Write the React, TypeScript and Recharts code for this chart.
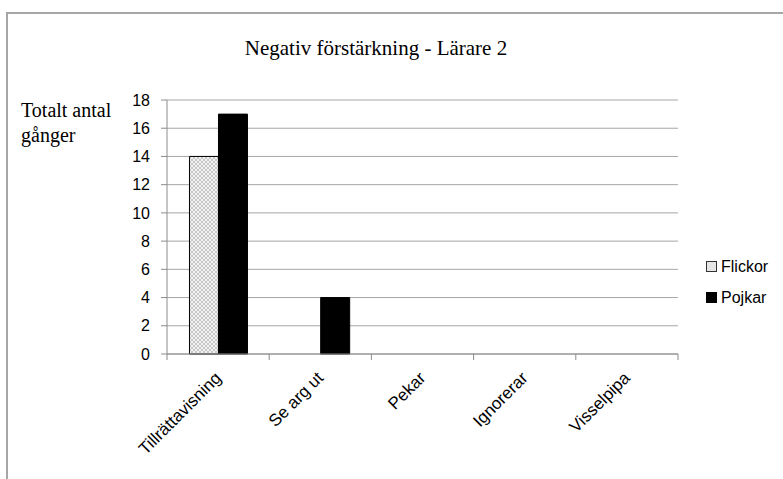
import { BarChart, Bar, XAxis, YAxis, CartesianGrid, Legend } from "recharts";

const categories = ["Tillrättavisning", "Se arg ut", "Pekar", "Ignorerar", "Visselpipa"];
const flickor = [14, 0, 0, 0, 0];
const pojkar = [17, 4, 0, 0, 0];
const yTicks = [0, 2, 4, 6, 8, 10, 12, 14, 16, 18];
const seriesNames = ["Flickor", "Pojkar"];
const title = "Negativ förstärkning - Lärare 2";
const yLabelLines = ["Totalt antal", "gånger"];

const data = categories.map((name, i) => ({
  name,
  Flickor: flickor[i],
  Pojkar: pojkar[i],
}));

const W = 783;
const H = 479;
const PLOT_LEFT = 167;
const PLOT_RIGHT = 678;
const BAND = (PLOT_RIGHT - PLOT_LEFT) / categories.length;
const AXIS_GRAY = "#8c8c8c";
const GRID_GRAY = "#a6a6a6";
const SANS = "'Liberation Sans', Arial, sans-serif";
const SERIF = "'Liberation Serif', 'Times New Roman', serif";

function XTick(props: any) {
  const { x, y, payload, index } = props;
  const left = x - BAND / 2;
  const ax = x + 4;
  const ay = y + 25;
  return (
    <g>
      <line x1={left} y1={y} x2={left} y2={y + 6} stroke={AXIS_GRAY} />
      {index === categories.length - 1 && (
        <line x1={x + BAND / 2} y1={y} x2={x + BAND / 2} y2={y + 6} stroke={AXIS_GRAY} />
      )}
      <text
        x={ax}
        y={ay}
        transform={`rotate(-45 ${ax} ${ay})`}
        textAnchor="end"
        fontFamily={SANS}
        fontSize={17}
        fill="#000"
      >
        {payload.value}
      </text>
    </g>
  );
}

function LegendContent() {
  return (
    <div style={{ fontFamily: SANS, fontSize: 16, color: "#000" }}>
      {seriesNames.map((n, i) => (
        <div key={n} style={{ display: "flex", alignItems: "center", height: 31 }}>
          <span
            style={{
              display: "inline-block",
              width: 9,
              height: 9,
              marginRight: 4,
              border: i === 0 ? "1px solid #333" : "1px solid #000",
              background: i === 0 ? "#e6e6e6" : "#000",
            }}
          />
          {n}
        </div>
      ))}
    </div>
  );
}

export default function App() {
  return (
    <div
      style={{
        position: "fixed",
        left: 0,
        top: 0,
        width: W,
        height: H,
        overflow: "hidden",
        background: "#fff",
      }}
    >
      <div
        style={{
          position: "absolute",
          left: 6,
          top: 12,
          width: 900,
          height: 600,
          borderLeft: "2px solid #a6a6a6",
          borderTop: "2px solid #a6a6a6",
        }}
      />
      <div style={{ position: "absolute", left: 0, top: 0 }}>
        <BarChart
          width={W}
          height={H}
          data={data}
          margin={{ top: 100, right: W - PLOT_RIGHT, bottom: 0, left: 0 }}
          barCategoryGap="22%"
          barGap={0}
        >
          <defs>
            <pattern id="hatch" width="4" height="4" patternUnits="userSpaceOnUse">
              <rect width="4" height="4" fill="#f2f2f2" />
              <path d="M0,0 L4,4 M4,0 L0,4" stroke="#bdbdbd" strokeWidth={0.8} />
            </pattern>
          </defs>
          <text x={376} y={55} textAnchor="middle" fontFamily={SERIF} fontSize={21} fill="#000">
            {title}
          </text>
          {yLabelLines.map((t, i) => (
            <text key={t} x={21} y={117 + i * 25} fontFamily={SERIF} fontSize={20} fill="#000">
              {t}
            </text>
          ))}
          <CartesianGrid vertical={false} stroke={GRID_GRAY} />
          <XAxis
            dataKey="name"
            height={125}
            axisLine={{ stroke: AXIS_GRAY }}
            tickLine={false}
            tickSize={0}
            tickMargin={0}
            tick={<XTick />}
            interval={0}
          />
          <YAxis
            width={PLOT_LEFT}
            domain={[0, 18]}
            ticks={yTicks}
            interval={0}
            axisLine={{ stroke: AXIS_GRAY }}
            tickLine={{ stroke: AXIS_GRAY }}
            tickSize={6}
            tickMargin={11}
            tick={{ fontFamily: SANS, fontSize: 16, fill: "#000" }}
          />
          <Legend
            layout="vertical"
            align="center"
            verticalAlign="middle"
            content={<LegendContent />}
            wrapperStyle={{ left: 706, top: 251, width: 80 }}
          />
          <Bar dataKey="Flickor" fill="url(#hatch)" stroke="#000" strokeWidth={1} isAnimationActive={false} />
          <Bar dataKey="Pojkar" fill="#000" stroke="#000" strokeWidth={1} isAnimationActive={false} />
        </BarChart>
      </div>
    </div>
  );
}
